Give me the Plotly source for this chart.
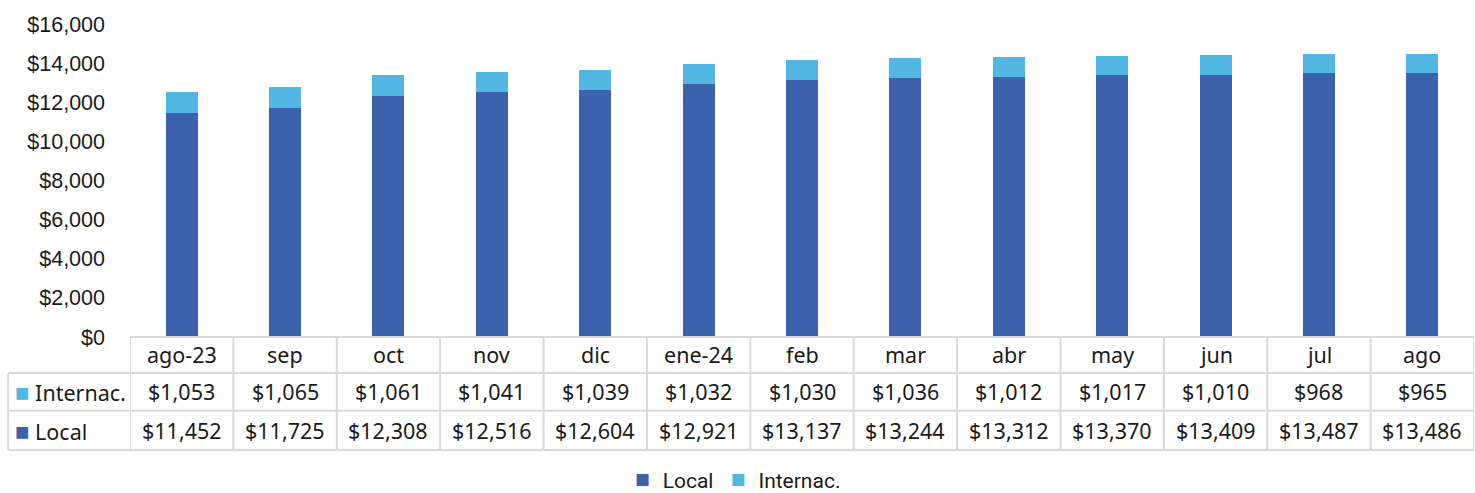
import plotly.graph_objects as go

categories = ["ago-23", "sep", "oct", "nov", "dic", "ene-24", "feb", "mar", "abr", "may", "jun", "jul", "ago"]
local_vals = [11452, 11725, 12308, 12516, 12604, 12921, 13137, 13244, 13312, 13370, 13409, 13487, 13486]
intl_vals = [1053, 1065, 1061, 1041, 1039, 1032, 1030, 1036, 1012, 1017, 1010, 968, 965]
series_names = ["Local", "Internac."]

C_LOCAL = "#3C62AE"
C_INTL = "#52B7E2"
GRID = "#D9D9D9"
TABLE_FONT = "Noto Sans"

fig = go.Figure()
fig.add_trace(go.Bar(x=categories, y=local_vals, name=series_names[0], marker_color=C_LOCAL,
                     width=0.31, marker_line_width=0))
fig.add_trace(go.Bar(x=categories, y=intl_vals, name=series_names[1], marker_color=C_INTL,
                     width=0.31, marker_line_width=0))

# table geometry (paper coords relative to plot area)
y_rows = [0.0, -0.115, -0.236, -0.361]
x_left = -0.0907
shapes = []
n = len(categories)
line = dict(color=GRID, width=2)
shapes.append(dict(type="line", xref="x", yref="paper", x0=-0.5, x1=n - 0.5, y0=y_rows[0], y1=y_rows[0], line=line))
for yv in y_rows[1:]:
    shapes.append(dict(type="line", xref="paper", yref="paper", x0=x_left, x1=1, y0=yv, y1=yv, line=line))
for i in range(n + 1):
    shapes.append(dict(type="line", xref="x", yref="paper", x0=i - 0.5, x1=i - 0.5, y0=y_rows[0], y1=y_rows[3], line=line))
shapes.append(dict(type="line", xref="paper", yref="paper", x0=x_left, x1=x_left, y0=y_rows[1], y1=y_rows[3], line=line))

annotations = []
tfont = dict(family=TABLE_FONT, size=21.5, color="#1a1a1a")
for i, c in enumerate(categories):
    annotations.append(dict(x=c, xref="x", y=(y_rows[0] + y_rows[1]) / 2, yref="paper", text=c,
                            showarrow=False, font=tfont, xanchor="center", yanchor="middle"))
    annotations.append(dict(x=c, xref="x", y=(y_rows[1] + y_rows[2]) / 2, yref="paper", text=f"${intl_vals[i]:,}",
                            showarrow=False, font=tfont, xanchor="center", yanchor="middle"))
    annotations.append(dict(x=c, xref="x", y=(y_rows[2] + y_rows[3]) / 2, yref="paper", text=f"${local_vals[i]:,}",
                            showarrow=False, font=tfont, xanchor="center", yanchor="middle"))
for row, (name, col) in enumerate([(series_names[1], C_INTL), (series_names[0], C_LOCAL)]):
    annotations.append(dict(x=x_left + 0.004, xref="paper", y=(y_rows[row + 1] + y_rows[row + 2]) / 2, yref="paper",
                            text=f"<span style='color:{col};font-size:24px'>■</span> {name}",
                            showarrow=False, font=tfont, xanchor="left", yanchor="middle"))

fig.update_layout(
    width=1475, height=493,
    margin=dict(l=130, r=1, t=24, b=156, autoexpand=False),
    barmode="stack",
    plot_bgcolor="white", paper_bgcolor="white",
    shapes=shapes, annotations=annotations,
    legend=dict(orientation="h", x=0.4495, xanchor="center", y=-0.458, yanchor="middle",
                traceorder="normal", font=dict(family="Roboto", size=21, color="#1a1a1a"),
                itemwidth=30),
    showlegend=True,
)
fig.update_xaxes(showticklabels=False, showgrid=False, zeroline=False, showline=False,
                 range=[-0.5, n - 0.5], automargin=False)
fig.update_yaxes(range=[0, 16000], dtick=2000, tickprefix="$", tickformat=",", showgrid=False,
                 zeroline=False, showline=False, ticklabelstandoff=24, automargin=False,
                 tickfont=dict(family="Liberation Sans", size=21.5, color="#1a1a1a"))

fig.write_html("out.html", config={"displayModeBar": False},
               post_script="document.body.style.margin='0';document.body.style.overflow='hidden';")
